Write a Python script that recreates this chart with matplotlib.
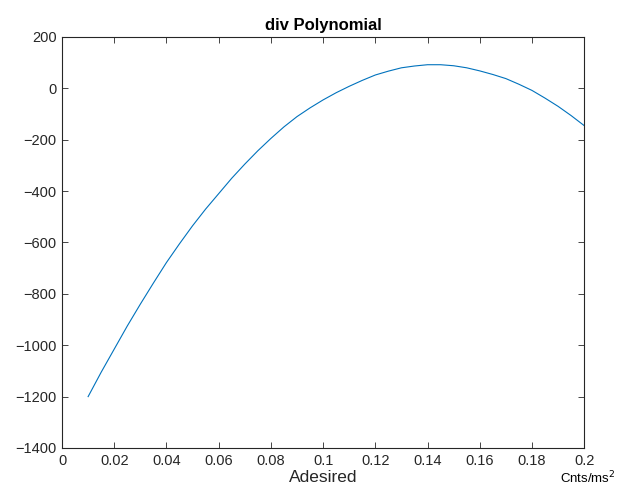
import matplotlib
matplotlib.use("Agg")
import matplotlib.pyplot as plt

# values (every 0.005)
adesired = [0.010, 0.015, 0.020, 0.025, 0.030, 0.035, 0.040, 0.045, 0.050, 0.055,
            0.060, 0.065, 0.070, 0.075, 0.080, 0.085, 0.090, 0.095, 0.100, 0.105,
            0.110, 0.115, 0.120, 0.125, 0.130, 0.135, 0.140, 0.145, 0.150, 0.155,
            0.160, 0.165, 0.170, 0.175, 0.180, 0.185, 0.190, 0.195, 0.200]
div_poly = [-1200, -1105, -1015, -925, -840, -758, -678, -605, -535, -470,
            -410, -350, -295, -243, -195, -150, -110, -76, -45, -17,
            8, 31, 52, 67, 80, 87, 92, 92, 88, 80,
            68, 54, 38, 16, -8, -38, -70, -106, -145]

x_ticks = [0, 0.02, 0.04, 0.06, 0.08, 0.1, 0.12, 0.14, 0.16, 0.18, 0.2]
x_tick_labels = ["0", "0.02", "0.04", "0.06", "0.08", "0.1", "0.12", "0.14", "0.16", "0.18", "0.2"]
y_ticks = [-1400, -1200, -1000, -800, -600, -400, -200, 0, 200]

plt.rcParams["font.family"] = ["Liberation Sans", "DejaVu Sans"]
dark = "#262626"

fig = plt.figure(figsize=(6.22, 4.97), dpi=100)
ax = fig.add_axes([0.0997, 0.0986, 0.8395, 0.827])

ax.plot(adesired, div_poly, color="#0072BD", linewidth=0.8)

ax.set_xlim(0, 0.2)
ax.set_ylim(-1400, 200)
ax.set_xticks(x_ticks)
ax.set_xticklabels(x_tick_labels)
ax.set_yticks(y_ticks)
ax.tick_params(direction="in", length=4, width=0.6, top=True, right=True,
               labelsize=10.5, colors=dark, pad=4)
for side in ax.spines.values():
    side.set_color(dark)
    side.set_linewidth(0.8)

ax.set_title("div Polynomial", fontsize=12, fontweight="bold", color="black", pad=5)
ax.set_xlabel("Adesired", fontsize=12.5, color=dark, labelpad=2)
fig.text(0.9, 0.022, r"Cnts/ms$^2$", fontsize=9.5, color="black", ha="left", va="bottom")

fig.savefig("out.png", dpi=100)
